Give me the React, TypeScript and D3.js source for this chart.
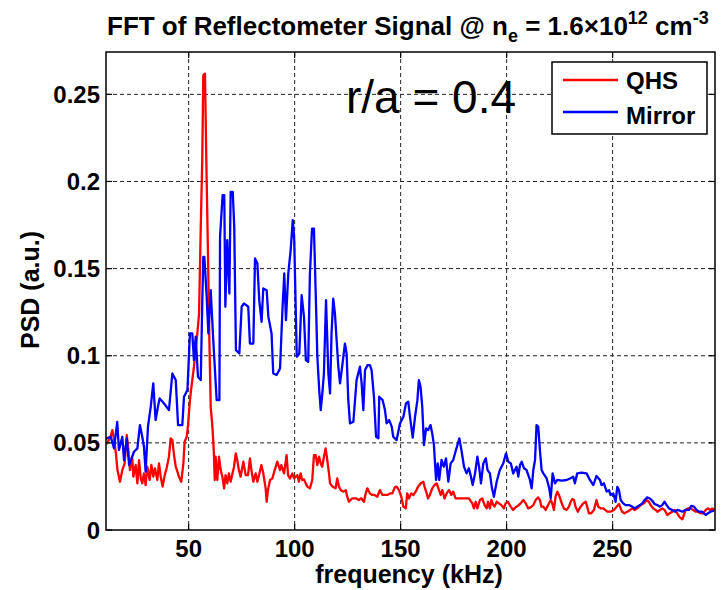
import React from "react";
import * as d3 from "d3";

const xTicks = [50, 100, 150, 200, 250];
const yTicks = [0, 0.05, 0.1, 0.15, 0.2, 0.25];
const yTickLabels = ["0", "0.05", "0.1", "0.15", "0.2", "0.25"];
const seriesNames = ["QHS", "Mirror"];
const seriesColors = ["#ff0000", "#0000ff"];

// QHS (red) series: [frequency kHz, PSD]
const qhsData: [number, number][] = [
  [11.0, 0.049], [11.3, 0.0497], [12.9, 0.0526], [14.0, 0.0573], [14.8, 0.0516], [15.6, 0.0449],
  [16.4, 0.0344], [17.6, 0.0277], [18.7, 0.0344], [19.8, 0.0382], [20.8, 0.0545], [21.4, 0.0478],
  [22.3, 0.0344], [23.4, 0.0411], [23.9, 0.0306], [25.0, 0.0373], [25.8, 0.0268], [26.6, 0.0401],
  [27.4, 0.0296], [28.1, 0.0268], [28.9, 0.0325], [29.7, 0.0258], [30.5, 0.0363], [31.6, 0.0287],
  [32.4, 0.0373], [33.3, 0.0306], [34.1, 0.0354], [35.2, 0.0287], [36.0, 0.0382], [36.8, 0.0306],
  [37.7, 0.0249], [38.7, 0.0315], [39.6, 0.0354], [40.7, 0.0421], [41.5, 0.0526], [42.3, 0.0516],
  [43.1, 0.043], [43.9, 0.0363], [44.7, 0.0335], [45.4, 0.0306], [46.5, 0.0277], [47.5, 0.0382],
  [48.1, 0.0507], [49.1, 0.0535], [49.7, 0.0602], [50.6, 0.0745], [51.3, 0.0822], [52.5, 0.0937],
  [53.3, 0.1032], [54.1, 0.1128], [54.9, 0.1242], [55.7, 0.1739], [56.4, 0.2122], [56.9, 0.2609],
  [57.7, 0.2619], [58.3, 0.2141], [59.0, 0.166], [59.7, 0.113], [60.4, 0.0707], [61.2, 0.0593],
  [61.9, 0.044], [62.3, 0.0287], [62.7, 0.0421], [63.5, 0.0287], [64.3, 0.0421], [65.1, 0.0344],
  [65.9, 0.0306], [66.7, 0.0239], [67.4, 0.0315], [68.2, 0.0268], [69.0, 0.0325], [69.8, 0.0277],
  [71.4, 0.0363], [72.2, 0.044], [72.9, 0.0402], [73.7, 0.0344], [74.5, 0.0306], [75.8, 0.0392],
  [76.9, 0.0315], [78.0, 0.0315], [78.9, 0.0411], [79.6, 0.0344], [80.5, 0.0277], [81.6, 0.0325],
  [82.4, 0.0277], [83.2, 0.0315], [84.3, 0.0373], [85.2, 0.0325], [86.3, 0.0239], [86.8, 0.0162],
  [87.4, 0.0229], [88.4, 0.0287], [89.5, 0.0296], [90.6, 0.0344], [91.8, 0.0392], [93.1, 0.0344],
  [93.7, 0.0373], [95.0, 0.0325], [96.2, 0.043], [96.9, 0.0315], [97.8, 0.0296], [98.9, 0.0325],
  [99.7, 0.0296], [100.5, 0.0306], [101.3, 0.0315], [102.0, 0.0277], [102.8, 0.0325], [103.6, 0.0287],
  [104.4, 0.029], [105.2, 0.0268], [106.0, 0.0249], [107.2, 0.0239], [108.3, 0.0287], [109.1, 0.043],
  [109.9, 0.043], [110.7, 0.0373], [111.5, 0.0421], [112.3, 0.0382], [113.0, 0.0363], [113.8, 0.0421],
  [114.6, 0.0468], [115.4, 0.0401], [116.2, 0.0325], [116.7, 0.0268], [117.8, 0.0249], [119.3, 0.0239],
  [120.1, 0.0296], [120.9, 0.0249], [121.7, 0.0229], [123.0, 0.022], [124.1, 0.0229], [124.8, 0.0191],
  [125.6, 0.0162], [127.2, 0.0182], [128.8, 0.0182], [130.3, 0.0172], [131.4, 0.0182], [132.7, 0.0162],
  [133.5, 0.021], [134.3, 0.0239], [135.5, 0.021], [136.6, 0.0201], [137.7, 0.0201], [139.0, 0.0191],
  [140.2, 0.0229], [141.4, 0.0201], [142.5, 0.0201], [143.7, 0.0201], [145.0, 0.021], [146.1, 0.021],
  [147.2, 0.0245], [148.1, 0.0249], [149.2, 0.0229], [150.3, 0.0191], [151.3, 0.0134], [152.4, 0.0124],
  [153.1, 0.021], [153.9, 0.0181], [155.0, 0.021], [156.0, 0.0201], [157.1, 0.022], [158.2, 0.0248],
  [159.4, 0.0267], [160.7, 0.0277], [161.3, 0.0248], [162.3, 0.021], [162.9, 0.0181], [163.8, 0.0201],
  [164.9, 0.0239], [166.0, 0.0258], [167.0, 0.0267], [168.1, 0.0229], [168.9, 0.0201], [169.7, 0.0229],
  [170.7, 0.0181], [171.7, 0.021], [172.8, 0.0229], [173.9, 0.0201], [174.8, 0.022], [175.9, 0.0181],
  [177.5, 0.0181], [179.1, 0.0181], [180.7, 0.0181], [182.2, 0.0181], [183.8, 0.0153], [184.6, 0.0124],
  [185.4, 0.0162], [186.2, 0.0124], [187.4, 0.0172], [188.5, 0.0181], [189.6, 0.0143], [190.6, 0.0124],
  [191.2, 0.0162], [192.1, 0.0124], [192.8, 0.0172], [193.7, 0.0143], [194.3, 0.0134], [195.3, 0.0162],
  [196.4, 0.0153], [197.5, 0.0143], [198.7, 0.0124], [199.5, 0.0153], [200.6, 0.0162], [201.9, 0.0134],
  [203.1, 0.0115], [204.2, 0.013], [205.3, 0.0138], [206.6, 0.0153], [207.9, 0.0172], [209.0, 0.0153],
  [210.1, 0.0124], [211.3, 0.013], [212.6, 0.0143], [213.7, 0.0172], [214.8, 0.0187], [215.7, 0.0172],
  [216.4, 0.0134], [217.3, 0.0134], [218.4, 0.0115], [219.2, 0.0134], [220.0, 0.0153], [220.8, 0.0172],
  [221.5, 0.0153], [222.3, 0.0115], [223.1, 0.0191], [223.9, 0.022], [224.7, 0.0201], [225.5, 0.0172],
  [226.3, 0.0143], [227.0, 0.0124], [228.3, 0.0115], [229.4, 0.0134], [230.2, 0.0162], [231.0, 0.0178],
  [231.8, 0.0172], [232.5, 0.0134], [233.6, 0.0105], [234.9, 0.0134], [236.2, 0.0153], [237.3, 0.0162],
  [238.0, 0.0134], [238.8, 0.0096], [239.9, 0.0096], [241.2, 0.0115], [242.4, 0.0172], [243.2, 0.0134],
  [244.3, 0.0124], [245.6, 0.0124], [247.5, 0.0105], [249.0, 0.0105], [250.6, 0.0115], [251.9, 0.0134],
  [253.0, 0.0149], [253.8, 0.0124], [254.5, 0.0105], [255.6, 0.0096], [256.9, 0.0105], [258.2, 0.0115],
  [259.3, 0.0124], [260.4, 0.0115], [261.6, 0.0124], [263.2, 0.0143], [264.8, 0.0153], [266.0, 0.0172],
  [267.1, 0.0162], [267.9, 0.0143], [269.2, 0.0124], [270.3, 0.0115], [271.1, 0.0105], [272.3, 0.0115],
  [273.4, 0.0124], [274.5, 0.0115], [275.8, 0.0086], [277.0, 0.0096], [278.1, 0.0105], [279.2, 0.0115],
  [280.5, 0.0096], [281.7, 0.0073], [282.9, 0.0061], [283.6, 0.0086], [284.4, 0.0115], [285.5, 0.0124],
  [286.8, 0.0124], [288.0, 0.0115], [289.1, 0.0105], [290.2, 0.0105], [291.5, 0.0096], [292.8, 0.0096],
  [293.9, 0.0115], [295.0, 0.0124], [295.9, 0.0115], [297.0, 0.0124], [298.3, 0.0115],
];

// Mirror (blue) series: [frequency kHz, PSD]
const mirrorData: [number, number][] = [
  [11.0, 0.052], [11.3, 0.0526], [13.2, 0.0535], [14.8, 0.0468], [16.3, 0.0621], [17.1, 0.0459],
  [18.7, 0.0535], [19.5, 0.0401], [20.8, 0.0526], [21.9, 0.0373], [24.2, 0.0449], [25.8, 0.0468],
  [27.0, 0.0602], [28.1, 0.0535], [28.9, 0.0478], [29.7, 0.0335], [30.8, 0.0593], [32.1, 0.0707],
  [33.3, 0.0841], [34.4, 0.0631], [35.5, 0.0707], [36.3, 0.0755], [38.4, 0.0726], [40.7, 0.0688],
  [42.3, 0.0898], [43.9, 0.086], [45.0, 0.0602], [47.0, 0.0602], [47.8, 0.0765], [49.4, 0.0803],
  [50.6, 0.1128], [51.7, 0.1128], [52.5, 0.0975], [53.3, 0.1109], [54.4, 0.0879], [55.7, 0.086],
  [56.4, 0.13], [56.9, 0.1567], [57.4, 0.1567], [58.5, 0.1338], [59.3, 0.1128], [60.4, 0.1376],
  [61.6, 0.109], [63.2, 0.0745], [64.5, 0.0745], [64.8, 0.1682], [66.0, 0.1921], [66.8, 0.1921],
  [67.3, 0.1281], [68.2, 0.1663], [69.2, 0.1357], [69.8, 0.194], [70.8, 0.194], [71.5, 0.1739],
  [72.3, 0.1032], [73.9, 0.1013], [75.0, 0.1281], [76.1, 0.13], [78.1, 0.1281], [78.9, 0.107],
  [80.5, 0.107], [81.3, 0.1558], [82.4, 0.1529], [83.3, 0.1319], [84.4, 0.1195], [85.2, 0.1386],
  [86.8, 0.1376], [87.6, 0.1223], [89.1, 0.1128], [89.9, 0.0898], [91.5, 0.0889], [93.1, 0.0927],
  [94.3, 0.1281], [95.1, 0.1472], [95.9, 0.1204], [97.0, 0.1472], [98.1, 0.1605], [99.1, 0.1778],
  [99.8, 0.1663], [101.0, 0.0994], [102.2, 0.1013], [103.3, 0.1347], [104.4, 0.1223], [105.3, 0.0975],
  [106.4, 0.0965], [107.2, 0.1472], [108.2, 0.173], [109.1, 0.173], [110.1, 0.1281], [110.7, 0.0994],
  [111.6, 0.0803], [112.3, 0.0688], [113.2, 0.0803], [113.8, 0.0898], [114.8, 0.1319], [115.9, 0.0898],
  [116.7, 0.0784], [117.4, 0.1128], [118.2, 0.1328], [119.0, 0.1242], [119.8, 0.109], [120.6, 0.0937],
  [121.4, 0.0841], [122.6, 0.0956], [123.7, 0.107], [124.5, 0.1013], [125.3, 0.0745], [126.1, 0.0612],
  [127.7, 0.0621], [129.2, 0.086], [130.8, 0.0937], [131.6, 0.0841], [132.4, 0.0688], [133.2, 0.0918],
  [134.4, 0.0946], [135.5, 0.0946], [136.3, 0.0918], [137.4, 0.0765], [138.4, 0.0535], [139.5, 0.0526],
  [139.9, 0.0765], [141.5, 0.0745], [142.6, 0.0688], [143.4, 0.0612], [144.6, 0.0631], [145.8, 0.0593],
  [146.5, 0.0535], [148.1, 0.0516], [149.7, 0.0612], [151.3, 0.065], [152.5, 0.0726], [153.6, 0.0736],
  [154.4, 0.065], [155.7, 0.053], [156.8, 0.065], [157.9, 0.0745], [158.6, 0.086], [159.4, 0.0822],
  [160.2, 0.0707], [161.0, 0.0487], [162.0, 0.0583], [163.0, 0.0574], [164.1, 0.0602], [164.9, 0.0554],
  [165.7, 0.0487], [166.7, 0.0287], [167.5, 0.0382], [168.2, 0.0287], [169.3, 0.0402], [170.4, 0.0363],
  [171.4, 0.0411], [172.5, 0.0277], [173.6, 0.0382], [174.8, 0.0402], [176.1, 0.0459], [177.7, 0.0526],
  [178.8, 0.0449], [179.9, 0.0363], [181.1, 0.0325], [182.2, 0.0354], [183.0, 0.0315], [184.0, 0.0258],
  [185.1, 0.0325], [186.2, 0.0421], [187.0, 0.0363], [187.9, 0.0267], [189.0, 0.0382], [190.2, 0.0411],
  [191.0, 0.0344], [192.1, 0.0325], [193.1, 0.0239], [194.0, 0.0191], [195.3, 0.0277], [196.8, 0.0344],
  [198.4, 0.0382], [199.7, 0.044], [200.8, 0.0392], [202.0, 0.0382], [203.1, 0.0325], [204.7, 0.0363],
  [205.5, 0.0306], [206.3, 0.0373], [207.1, 0.0392], [208.2, 0.0354], [209.4, 0.0344], [211.0, 0.0287],
  [211.8, 0.0239], [212.6, 0.0344], [213.4, 0.0402], [214.1, 0.0602], [214.9, 0.0593], [215.7, 0.0459],
  [216.5, 0.0344], [217.3, 0.0325], [218.9, 0.0296], [220.1, 0.0239], [220.8, 0.0182], [221.7, 0.0325],
  [222.8, 0.0268], [223.9, 0.0287], [226.0, 0.0283], [228.3, 0.0287], [229.9, 0.0296], [231.4, 0.0306],
  [232.2, 0.0268], [233.3, 0.0325], [235.4, 0.0329], [237.7, 0.0325], [239.3, 0.0287], [240.9, 0.0258],
  [242.4, 0.031], [244.0, 0.0287], [244.8, 0.0258], [245.9, 0.0268], [247.2, 0.022], [248.3, 0.0229],
  [249.0, 0.0201], [250.3, 0.021], [251.4, 0.0162], [252.2, 0.0248], [253.0, 0.0229], [253.8, 0.0172],
  [255.0, 0.0153], [256.1, 0.0143], [257.7, 0.0143], [259.3, 0.0134], [260.4, 0.0124], [261.6, 0.0134],
  [262.9, 0.0143], [264.0, 0.0153], [265.1, 0.0172], [266.3, 0.0187], [267.6, 0.0181], [268.7, 0.0168],
  [269.8, 0.0149], [271.1, 0.0143], [272.3, 0.0134], [273.4, 0.0143], [274.5, 0.0162], [275.5, 0.0143],
  [276.6, 0.0124], [278.1, 0.0115], [279.2, 0.0105], [280.5, 0.0115], [281.7, 0.0111], [282.9, 0.0105],
  [284.4, 0.0115], [286.0, 0.0115], [287.1, 0.0138], [288.4, 0.0134], [289.6, 0.0115], [290.7, 0.0105],
  [292.3, 0.0105], [293.9, 0.0086], [295.0, 0.0096], [296.2, 0.0105], [297.8, 0.0111],
];

const W = 722;
const H = 590;
const M = { left: 106, right: 715, top: 52, bottom: 530 };
const FONT = "'Liberation Sans', Arial, Helvetica, sans-serif";

export default function App() {
  const x = d3.scaleLinear().domain([11, 298.3]).range([M.left, M.right]);
  const y = d3.scaleLinear().domain([0, 0.2743]).range([M.bottom, M.top]);
  const line = d3
    .line<[number, number]>()
    .x((d) => x(d[0]))
    .y((d) => y(d[1]));
  const series = [qhsData, mirrorData];
  const tickLen = 6;

  return (
    <svg
      width={W}
      height={H}
      style={{ position: "absolute", left: 0, top: 0, background: "#fff" }}
      fontFamily={FONT}
    >
      <rect x={0} y={0} width={W} height={H} fill="#fff" />
      <defs>
        <clipPath id="plotclip">
          <rect x={M.left} y={M.top} width={M.right - M.left} height={M.bottom - M.top} />
        </clipPath>
      </defs>
      {/* grid */}
      <g stroke="#222" strokeWidth={1} strokeDasharray="4,3">
        {xTicks.map((t) => (
          <line key={"gx" + t} x1={x(t)} x2={x(t)} y1={M.top} y2={M.bottom} />
        ))}
        {yTicks.slice(1).map((t) => (
          <line key={"gy" + t} x1={M.left} x2={M.right} y1={y(t)} y2={y(t)} />
        ))}
      </g>
      {/* series */}
      <g clipPath="url(#plotclip)" fill="none" strokeWidth={2.3} strokeLinejoin="round">
        {series.map((s, i) => (
          <path key={i} d={line(s) || ""} stroke={seriesColors[i]} />
        ))}
      </g>
      {/* axes box and ticks */}
      <rect
        x={M.left}
        y={M.top}
        width={M.right - M.left}
        height={M.bottom - M.top}
        fill="none"
        stroke="#000"
        strokeWidth={1.5}
      />
      <g stroke="#000" strokeWidth={1.2}>
        {xTicks.map((t) => (
          <g key={"tx" + t}>
            <line x1={x(t)} x2={x(t)} y1={M.bottom} y2={M.bottom - tickLen} />
            <line x1={x(t)} x2={x(t)} y1={M.top} y2={M.top + tickLen} />
          </g>
        ))}
        {yTicks.map((t) => (
          <g key={"ty" + t}>
            <line x1={M.left} x2={M.left + tickLen} y1={y(t)} y2={y(t)} />
            <line x1={M.right} x2={M.right - tickLen} y1={y(t)} y2={y(t)} />
          </g>
        ))}
      </g>
      {/* tick labels */}
      <g fontSize={24} fontWeight="bold" fill="#000">
        {yTicks.map((t, i) => (
          <text key={"ly" + t} x={M.left - 6} y={y(t)} textAnchor="end" dominantBaseline="central">
            {yTickLabels[i]}
          </text>
        ))}
        {xTicks.map((t) => (
          <text key={"lx" + t} x={x(t)} y={557} textAnchor="middle">
            {t}
          </text>
        ))}
      </g>
      {/* axis labels */}
      <text x={409} y={583} textAnchor="middle" fontSize={25} fontWeight="bold">
        frequency (kHz)
      </text>
      <text
        transform="translate(30,290) rotate(-90)"
        textAnchor="middle"
        dominantBaseline="central"
        fontSize={25}
        fontWeight="bold"
      >
        PSD (a.u.)
      </text>
      {/* title */}
      <text x={107} y={35} fontSize={26} fontWeight="bold">
        <tspan>FFT of Reflectometer Signal @ n</tspan>
        <tspan fontSize={18} dy={7}>e</tspan>
        <tspan dy={-7}> = 1.6×10</tspan>
        <tspan fontSize={18} dy={-11}>12</tspan>
        <tspan dy={11}> cm</tspan>
        <tspan fontSize={18} dy={-11}>-3</tspan>
      </text>
      {/* annotation */}
      <text x={346} y={113} fontSize={46} fill="#000">
        r/a = 0.4
      </text>
      {/* legend */}
      <rect x={552} y={62} width={155} height={72} fill="#fff" stroke="#000" strokeWidth={1.5} />
      {seriesNames.map((n, i) => (
        <g key={n}>
          <line x1={563} x2={618} y1={80 + i * 32} y2={80 + i * 32} stroke={seriesColors[i]} strokeWidth={2.3} />
          <text x={626} y={89 + i * 35} fontSize={24} fontWeight="bold">
            {n}
          </text>
        </g>
      ))}
    </svg>
  );
}
